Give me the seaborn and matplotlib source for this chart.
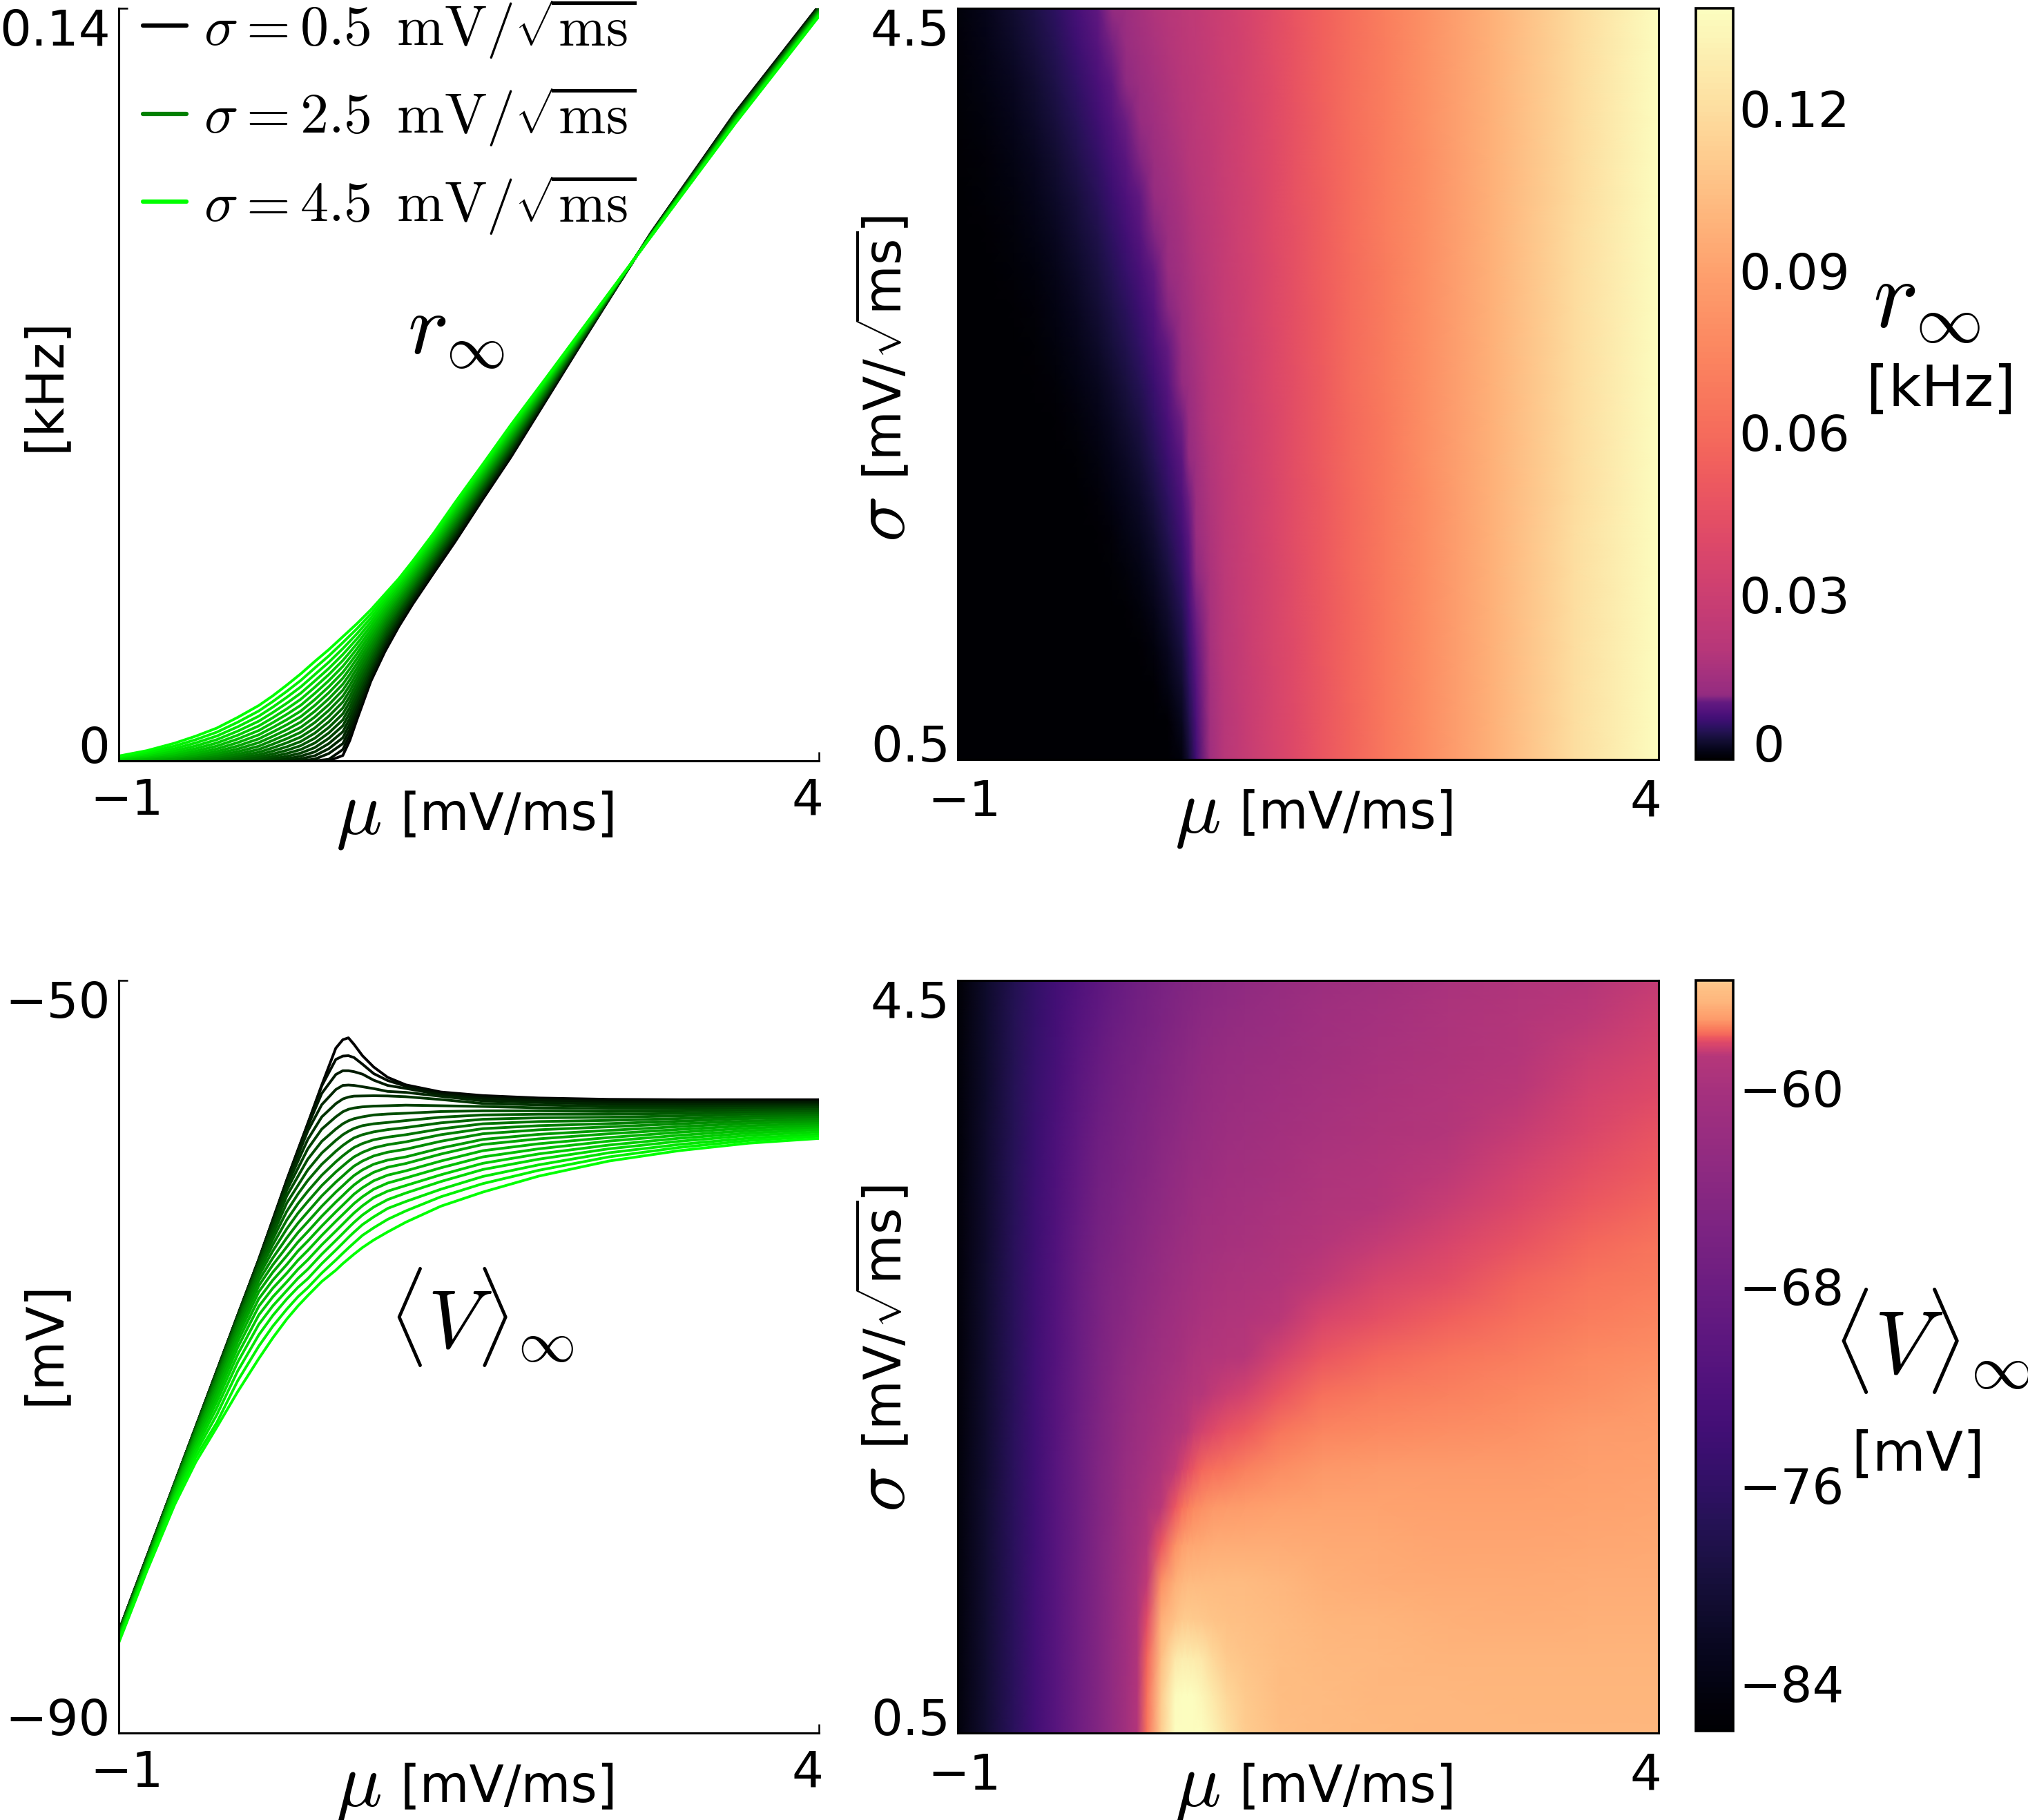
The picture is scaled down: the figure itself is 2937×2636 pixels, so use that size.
import numpy as np
import pandas as pd
import matplotlib
matplotlib.use("Agg")
import matplotlib.pyplot as plt
from matplotlib.colors import ListedColormap
from matplotlib.lines import Line2D
from matplotlib.transforms import ScaledTranslation
import seaborn as sns

sigma_values = [0.5, 0.7, 0.9, 1.1, 1.3, 1.5, 1.7, 1.9, 2.1, 2.3, 2.5, 2.7, 2.9, 3.1, 3.3, 3.5, 3.7, 3.9, 4.1, 4.3, 4.5]
mu_r = [-1, -0.8, -0.6, -0.45, -0.3, -0.15, 0, 0.1, 0.2, 0.3, 0.4, 0.5, 0.6, 0.65, 0.7, 0.8, 0.9, 1.0, 1.1, 1.25, 1.4, 1.6, 1.8, 2.05, 2.3, 2.8, 3.4, 4]
mu_v = [-1, -0.8, -0.6, -0.45, -0.3, -0.15, 0, 0.1, 0.2, 0.28, 0.35, 0.45, 0.55, 0.6, 0.64, 0.68, 0.74, 0.82, 0.92, 1.05, 1.3, 1.6, 2, 2.5, 3, 3.5, 4]

r_s05 = [0, 0, 0, 0, 0, 0, 0, 0, 0, 0, 0, 0, .001, .0038, .0076, .0148, .0203, .025, .0292, .035, .0407, .0487, .0565, .067, .0775, .0982, .1205, .1405]
r_s07 = [0, 0, 0, 0, 0, 0, 0, 0, 0, 0, 0, .0003, .0021, .00483, .00837, .01522, .02076, .0254, .02954, .03537, .04107, .04903, .0568, .06721, .07763, .09817, .1204, .1404]
r_s09 = [0, 0, 0, 0, 0, 0, 0, 0, 0, .00004, .00033, .00137, .0032, .00585, .00919, .01574, .02125, .0258, .02991, .03574, .04143, .04935, .0571, .06742, .07775, .09813, .1203, .1403]
r_s11 = [0, 0, 0, 0, 0, 0, 0, 0, .00008, .00038, .00096, .00227, .0043, .00688, .01005, .0163, .02176, .0262, .03029, .03611, .0418, .04968, .0574, .06763, .07788, .0981, .1202, .1402]
r_s13 = [0, 0, 0, 0, 0, 0, 0, .00011, .0004, .00087, .00168, .00322, .00542, .0079, .0109, .01689, .02227, .0266, .03068, .03648, .04216, .05, .0577, .06784, .078, .09806, .1201, .1401]
r_s15 = [0, 0, 0, 0, 0, 0, .00012, .00041, .00084, .00145, .00247, .0042, .00653, .00893, .01178, .0175, .0228, .0271, .03107, .03685, .04253, .05033, .058, .06805, .07813, .09803, .12, .14]
r_s17 = [0, 0, 0, 0, 0, .00008, .00037, .0008, .00137, .00211, .00333, .0052, .00763, .00995, .01266, .01813, .02332, .0275, .03146, .03722, .04289, .05065, .0583, .06826, .07825, .09799, .1199, .1399]
r_s19 = [0, 0, 0, 0, .00005, .00026, .00071, .00128, .00197, .00284, .00422, .00622, .00874, .01098, .01355, .01878, .02385, .028, .03186, .03759, .04326, .05098, .0586, .06847, .07838, .09796, .1198, .1398]
r_s21 = [0, 0, 0, .00004, .00018, .00053, .00112, .00183, .00263, .00361, .00516, .00726, .00984, .012, .01444, .01944, .02439, .0284, .03226, .03796, .04362, .0513, .0589, .06868, .0785, .09792, .1197, .1397]
r_s23 = [0, 0, .00002, .00013, .00038, .00086, .0016, .00243, .00336, .00445, .00612, .00832, .01095, .01303, .01534, .02011, .02493, .0288, .03266, .03833, .04399, .05163, .0592, .06889, .07863, .09789, .1196, .1396]
r_s25 = [0, .00002, .00009, .00028, .00064, .00125, .00214, .0031, .00413, .00533, .00714, .0094, .01205, .01405, .01625, .0208, .02547, .0293, .03306, .0387, .04435, .05195, .0595, .0691, .07875, .09785, .1195, .1395]
r_s27 = [.00001, .00006, .00021, .00049, .00096, .00171, .00274, .00381, .00495, .00625, .00817, .01047, .01316, .01508, .01716, .02149, .02601, .0298, .03347, .03907, .04472, .05228, .0598, .06931, .07888, .09782, .1194, .1394]
r_s29 = [.00004, .00014, .00037, .00075, .00133, .00222, .0034, .00456, .00581, .00723, .00923, .01157, .01426, .0161, .01807, .02219, .02656, .0302, .03388, .03944, .04508, .0526, .0601, .06952, .079, .09778, .1193, .1393]
r_s31 = [.00008, .00025, .00057, .00106, .00175, .00278, .0041, .00537, .00673, .00823, .01032, .01268, .01537, .01713, .01899, .02291, .02711, .0307, .03429, .03981, .04545, .05293, .0604, .06973, .07913, .09775, .1192, .1392]
r_s33 = [.00014, .00039, .00083, .00142, .00223, .0034, .00485, .00622, .00767, .00927, .01141, .0138, .01647, .01815, .01991, .02363, .02766, .0311, .0347, .04018, .04581, .05325, .0607, .06994, .07925, .09771, .1191, .1391]
r_s35 = [.00023, .00057, .00112, .00183, .00276, .00407, .00565, .00711, .00866, .01035, .01256, .01493, .01758, .01918, .02083, .02435, .02821, .0316, .03511, .04055, .04618, .05358, .061, .07015, .07938, .09768, .119, .139]
r_s37 = [.00032, .00077, .00147, .00229, .00333, .00478, .0065, .00803, .00967, .01147, .01371, .01606, .01868, .0202, .02176, .02509, .02877, .032, .03553, .04092, .04654, .0539, .0613, .07036, .0795, .09764, .1189, .1389]
r_s39 = [.00044, .001, .00186, .00279, .00395, .00554, .00739, .009, .01073, .0126, .01487, .0172, .01979, .02123, .02269, .02583, .02932, .0325, .03594, .04129, .04691, .05423, .0616, .07057, .07963, .09761, .1188, .1388]
r_s41 = [.00058, .00127, .00229, .00335, .00462, .00635, .00832, .01, .01183, .01377, .01606, .01836, .02089, .02225, .02363, .02658, .02988, .033, .03636, .04166, .04727, .05455, .0619, .07078, .07975, .09757, .1187, .1387]
r_s43 = [.00073, .00157, .00277, .00395, .00534, .0072, .00929, .01104, .01294, .01497, .01728, .01953, .022, .02328, .02456, .02734, .03044, .0334, .03678, .04203, .04764, .05488, .0622, .07099, .07988, .09754, .1186, .1386]
r_s45 = [.0009, .0019, .0033, .0046, .0061, .0081, .0103, .0121, .0141, .0162, .0185, .0207, .0231, .0243, .0255, .0281, .031, .0339, .0372, .0424, .048, .0552, .0625, .0712, .08, .0975, .1185, .1385]

v_s05 = [-84.6, -80.65, -76.7, -73.73, -70.76, -67.79, -64.83, -62.72, -60.6, -59.0, -57.6, -55.55, -53.6, -53.15, -53.05, -53.4, -54.0, -54.6, -55.15, -55.55, -55.93, -56.12, -56.25, -56.32, -56.34, -56.34, -56.34]
v_s07 = [-84.6, -80.65, -76.7, -73.73, -70.76, -67.79, -64.83, -62.73, -60.62, -59.02, -57.62, -55.6, -54.2, -54.02, -54.0, -54.1, -54.45, -54.95, -55.32, -55.62, -55.98, -56.17, -56.3, -56.38, -56.4, -56.4, -56.41]
v_s09 = [-84.61, -80.66, -76.7, -73.73, -70.76, -67.79, -64.84, -62.76, -60.68, -59.12, -57.75, -56.0, -55.0, -54.8, -54.8, -54.85, -54.98, -55.3, -55.58, -55.74, -56.07, -56.28, -56.38, -56.47, -56.49, -56.49, -56.49]
v_s11 = [-84.61, -80.67, -76.7, -73.74, -70.77, -67.8, -64.87, -62.83, -60.78, -59.29, -58.0, -56.6, -55.8, -55.58, -55.56, -55.58, -55.65, -55.75, -55.9, -55.95, -56.16, -56.4, -56.49, -56.57, -56.59, -56.58, -56.57]
v_s13 = [-84.62, -80.68, -76.71, -73.75, -70.79, -67.82, -64.91, -62.92, -60.93, -59.6, -58.45, -57.25, -56.55, -56.3, -56.2, -56.15, -56.14, -56.13, -56.14, -56.18, -56.33, -56.54, -56.62, -56.69, -56.7, -56.67, -56.66]
v_s15 = [-84.64, -80.7, -76.72, -73.76, -70.81, -67.85, -64.97, -63.06, -61.15, -59.98, -58.95, -57.9, -57.25, -56.98, -56.85, -56.78, -56.72, -56.68, -56.66, -56.63, -56.66, -56.7, -56.77, -56.82, -56.82, -56.78, -56.76]
v_s17 = [-84.65, -80.72, -76.73, -73.78, -70.85, -67.9, -65.06, -63.26, -61.45, -60.41, -59.5, -58.55, -57.9, -57.62, -57.46, -57.35, -57.25, -57.15, -57.1, -57.06, -56.97, -56.93, -56.93, -56.97, -56.94, -56.89, -56.86]
v_s19 = [-84.67, -80.74, -76.75, -73.81, -70.9, -67.96, -65.17, -63.5, -61.83, -60.89, -60.07, -59.17, -58.5, -58.2, -58.02, -57.87, -57.72, -57.62, -57.55, -57.45, -57.27, -57.15, -57.11, -57.11, -57.07, -57.0, -56.96]
v_s21 = [-84.7, -80.77, -76.77, -73.85, -70.96, -68.05, -65.32, -63.75, -62.27, -61.35, -60.63, -59.77, -59.08, -58.77, -58.56, -58.37, -58.2, -58.05, -57.93, -57.82, -57.57, -57.38, -57.3, -57.27, -57.2, -57.11, -57.06]
v_s23 = [-84.72, -80.8, -76.8, -73.9, -71.05, -68.16, -65.49, -64.05, -62.73, -61.86, -61.2, -60.35, -59.64, -59.32, -59.09, -58.88, -58.67, -58.47, -58.33, -58.2, -57.89, -57.62, -57.5, -57.44, -57.34, -57.23, -57.16]
v_s25 = [-84.75, -80.84, -76.84, -73.96, -71.16, -68.3, -65.7, -64.38, -63.2, -62.37, -61.75, -60.9, -60.18, -59.86, -59.61, -59.38, -59.14, -58.9, -58.73, -58.58, -58.2, -57.88, -57.72, -57.61, -57.48, -57.34, -57.27]
v_s27 = [-84.78, -80.88, -76.88, -74.04, -71.29, -68.47, -65.95, -64.75, -63.68, -62.9, -62.3, -61.45, -60.72, -60.39, -60.12, -59.87, -59.6, -59.33, -59.13, -58.97, -58.55, -58.15, -57.94, -57.78, -57.62, -57.47, -57.38]
v_s29 = [-84.82, -80.92, -76.94, -74.13, -71.45, -68.67, -66.23, -65.12, -64.16, -63.4, -62.83, -62.0, -61.25, -60.91, -60.63, -60.37, -60.07, -59.77, -59.55, -59.38, -58.91, -58.45, -58.18, -57.97, -57.77, -57.59, -57.49]
v_s31 = [-84.85, -80.97, -77.0, -74.24, -71.64, -68.9, -66.55, -65.51, -64.63, -63.9, -63.35, -62.53, -61.78, -61.43, -61.14, -60.87, -60.54, -60.2, -59.93, -59.73, -59.23, -58.72, -58.42, -58.15, -57.92, -57.72, -57.6]
v_s33 = [-84.89, -81.02, -77.08, -74.37, -71.85, -69.18, -66.92, -65.93, -65.1, -64.38, -63.85, -63.05, -62.3, -61.94, -61.65, -61.36, -61.02, -60.65, -60.35, -60.12, -59.6, -59.05, -58.68, -58.35, -58.07, -57.85, -57.71]
v_s35 = [-84.94, -81.07, -77.16, -74.52, -72.11, -69.5, -67.32, -66.36, -65.56, -64.87, -64.35, -63.55, -62.8, -62.44, -62.15, -61.86, -61.5, -61.1, -60.77, -60.5, -59.96, -59.38, -58.95, -58.54, -58.23, -57.98, -57.82]
v_s37 = [-84.98, -81.13, -77.26, -74.69, -72.39, -69.87, -67.78, -66.82, -66.02, -65.35, -64.85, -64.05, -63.32, -62.95, -62.65, -62.36, -61.98, -61.55, -61.2, -60.9, -60.33, -59.72, -59.22, -58.75, -58.39, -58.11, -57.93]
v_s39 = [-85.03, -81.19, -77.38, -74.88, -72.72, -70.28, -68.28, -67.3, -66.48, -65.83, -65.35, -64.55, -63.82, -63.45, -63.15, -62.86, -62.47, -62.05, -61.65, -61.3, -60.69, -60.05, -59.5, -58.95, -58.55, -58.24, -58.05]
v_s41 = [-85.09, -81.26, -77.5, -75.09, -73.09, -70.75, -68.84, -67.81, -66.93, -66.31, -65.85, -65.05, -64.33, -63.96, -63.66, -63.38, -62.98, -62.57, -62.12, -61.75, -61.1, -60.42, -59.8, -59.16, -58.72, -58.38, -58.17]
v_s43 = [-85.14, -81.33, -77.64, -75.33, -73.5, -71.27, -69.44, -68.38, -67.47, -66.81, -66.33, -65.55, -64.86, -64.5, -64.22, -63.95, -63.55, -63.15, -62.7, -62.25, -61.5, -60.8, -60.09, -59.38, -58.88, -58.51, -58.28]
v_s45 = [-85.2, -81.4, -77.85, -75.6, -73.75, -71.85, -70.1, -69.0, -68.0, -67.3, -66.75, -66.0, -65.4, -65.05, -64.8, -64.55, -64.2, -63.8, -63.37, -62.85, -62.0, -61.25, -60.4, -59.6, -59.05, -58.65, -58.4]

r_rows = [r_s05, r_s07, r_s09, r_s11, r_s13, r_s15, r_s17, r_s19, r_s21, r_s23, r_s25,
          r_s27, r_s29, r_s31, r_s33, r_s35, r_s37, r_s39, r_s41, r_s43, r_s45]
v_rows = [v_s05, v_s07, v_s09, v_s11, v_s13, v_s15, v_s17, v_s19, v_s21, v_s23, v_s25,
          v_s27, v_s29, v_s31, v_s33, v_s35, v_s37, v_s39, v_s41, v_s43, v_s45]

legend_labels = [r'$\sigma = 0.5\ \,\mathrm{mV}/\sqrt{\mathrm{ms}}$',
                 r'$\sigma = 2.5\ \,\mathrm{mV}/\sqrt{\mathrm{ms}}$',
                 r'$\sigma = 4.5\ \,\mathrm{mV}/\sqrt{\mathrm{ms}}$']
legend_colors = ['#000000', '#008000', '#00ff00']
r_cbar_ticks = [0, .015, .03, .045, .06, .075, .09, .105, .12, .135]
r_cbar_labels = ['0', '', '0.03', '', '0.06', '', '0.09', '', '0.12', '']
v_cbar_ticks = [-84, -80, -76, -72, -68, -64, -60, -56]
v_cbar_labels = ['\u221284', '', '\u221276', '', '\u221268', '', '\u221260', '']

sns.set_theme(style='white')
plt.rcParams['font.family'] = ['DejaVu Sans']
plt.rcParams['mathtext.fontset'] = 'cm'
plt.rcParams['axes.edgecolor'] = 'black'
plt.rcParams['text.color'] = 'black'
plt.rcParams['xtick.color'] = 'black'
plt.rcParams['ytick.color'] = 'black'
plt.rcParams['axes.labelcolor'] = 'black'

W, H = 2937, 2636
TICK_FS, LABEL_FS, SYMBOL_FS = 52, 53, 80
fig = plt.figure(figsize=(W / 100, H / 100), dpi=100, facecolor='white')


def px_axes(x0, y0, x1, y1):
    return fig.add_axes([x0 / W, 1 - y1 / H, (x1 - x0) / W, (y1 - y0) / H])


def long_table(mu, rows):
    return pd.DataFrame([{'mu': m, 'sigma': s, 'value': v}
                         for s, row in zip(sigma_values, rows)
                         for m, v in zip(mu, row)])


def warped_cmap(knots_v, knots_m, vmin, vmax):
    vals = np.linspace(vmin, vmax, 1024)
    base = plt.get_cmap('magma')
    return ListedColormap(base(np.interp(vals, knots_v, knots_m)))


def shift(label, dx=0, dy=0):
    label.set_transform(label.get_transform()
                        + ScaledTranslation(dx / 100, dy / 100, fig.dpi_scale_trans))


def style_ticks(ax, yt, ylabels):
    ax.set_xlim(-1, 4)
    ax.set_xticks([-1, 4])
    ax.set_xticklabels(['\u22121', '4'], fontsize=TICK_FS)
    ax.set_yticks(yt)
    ax.set_yticklabels(ylabels, fontsize=TICK_FS)
    ax.set_xlabel('[mV/ms]', fontsize=LABEL_FS, va='center')
    ax.xaxis.set_label_coords(0.557, -0.072)
    ax.text(0.342, -0.0715, r'$\mu$', transform=ax.transAxes, fontsize=SYMBOL_FS,
            ha='center', va='center')


def finish_ticks(ax, xt):
    labs = ax.get_xticklabels()
    shift(labs[0], dx=xt[0])
    shift(labs[1], dx=xt[1])
    ylabs = ax.get_yticklabels()
    ylabs[0].set_va('bottom')
    ylabs[1].set_va('top')
    shift(ylabs[0], dy=-18)


def line_panel(ax, mu, rows, ylim, ylabels, ylabel, ylab_y):
    palette = {s: (0, i / 20, 0) for i, s in enumerate(sigma_values)}
    sns.lineplot(data=long_table(mu, rows), x='mu', y='value', hue='sigma', palette=palette,
                 estimator=None, errorbar=None, sort=False, linewidth=2.8, legend=False, ax=ax)
    ax.set_ylim(*ylim)
    style_ticks(ax, list(ylim), ylabels)
    ax.tick_params(axis='both', direction='in', length=9.5, width=1.8, bottom=True, left=True)
    ax.tick_params(axis='x', pad=17)
    ax.tick_params(axis='y', pad=9)
    finish_ticks(ax, (12, -17))
    sns.despine(ax=ax)
    for sp in ['left', 'bottom']:
        ax.spines[sp].set_linewidth(2.2)
    ax.set_ylabel(ylabel, fontsize=LABEL_FS, va='center')
    ax.yaxis.set_label_coords(-0.105, ylab_y)


def heat_panel(ax, cax, mu, rows, cmap, vmin, vmax, clim, cticks, clabels, ylab_y, sig_y):
    mesh = ax.pcolormesh(mu, sigma_values, np.array(rows), cmap=cmap, vmin=vmin, vmax=vmax,
                         shading='gouraud', rasterized=True)
    ax.set_ylim(0.5, 4.5)
    style_ticks(ax, [0.5, 4.5], ['0.5', '4.5'])
    ax.tick_params(axis='both', length=0)
    ax.tick_params(axis='x', pad=20)
    ax.tick_params(axis='y', pad=8)
    finish_ticks(ax, (10, -19))
    for sp in ax.spines.values():
        sp.set_visible(True)
        sp.set_linewidth(2.2)
    ax.set_ylabel(r'[mV/$\sqrt{\mathdefault{ms}}$]', fontsize=LABEL_FS, va='center')
    ax.yaxis.set_label_coords(-0.106, ylab_y)
    ax.text(-0.106, sig_y, r'$\sigma$', transform=ax.transAxes, fontsize=SYMBOL_FS,
            rotation=90, ha='center', va='center')
    cb = fig.colorbar(mesh, cax=cax)
    cb.set_ticks(cticks)
    cb.set_ticklabels(clabels, fontsize=TICK_FS)
    cax.set_ylim(*clim)
    cax.tick_params(axis='y', direction='in', length=9.5, width=1.5, pad=6, right=True, left=False)
    for lab in cax.get_yticklabels():
        shift(lab, dy=4)
    cb.outline.set_linewidth(2.6)
    cb.outline.set_edgecolor('black')
    return cb


ax_tl = px_axes(172, 12, 1186, 1102)
ax_tr = px_axes(1387, 12, 2402, 1100)
cax_t = px_axes(2456, 12, 2510, 1100)
ax_bl = px_axes(172, 1420, 1186, 2510)
ax_br = px_axes(1387, 1420, 2402, 2510)
cax_b = px_axes(2456, 1420, 2510, 2507)

line_panel(ax_tl, mu_r, r_rows, (0, 0.14), ['0', '0.14'], '[kHz]', 0.5)
line_panel(ax_bl, mu_v, v_rows, (-90, -50), ['\u221290', '\u221250'], '[mV]', 0.518)

r_cmap = warped_cmap([0, .007, .0105, .012, .02, .03, .06, .09, .12, .139],
                     [0, .2, .3, .42, .5, .55, .69, .8, .93, 1.0], 0, .139)
v_cmap = warped_cmap([-85.8, -60, -58.6, -58.04, -57.63, -57.1, -56.34, -55.93, -55.55, -55.0, -54.5, -54.0],
                     [0, .46, .5, .6, .7, .79, .85, .865, .89, .95, .98, 1.0], -85.8, -53)

cb_t = heat_panel(ax_tr, cax_t, mu_r, r_rows, r_cmap, 0, .139, (0, .139),
                  r_cbar_ticks, r_cbar_labels, 0.548, 0.319)
cb_b = heat_panel(ax_br, cax_b, mu_v, v_rows, v_cmap, -85.8, -53, (-85.8, -55.55),
                  v_cbar_ticks, v_cbar_labels, 0.553, 0.323)
zero_label = cax_t.get_yticklabels()[0]
zero_label.set_va('bottom')
shift(zero_label, dx=20, dy=-22)

handles = [Line2D([], [], color=c, linewidth=4.5) for c in legend_colors]
ax_tl.legend(handles, legend_labels, loc='upper left', frameon=False, fontsize=59,
             bbox_to_anchor=(0.035, 1.0155), borderaxespad=0, borderpad=0, labelspacing=0.42,
             handlelength=0.76, handletextpad=0.31)


def fig_text(x, y, s, fs):
    fig.text(x / W, 1 - y / H, s, fontsize=fs, ha='center', va='center')


fig_text(660, 478, r'$r_\infty$', 90)
fig_text(697, 1907, r'$\langle V \rangle_\infty$', 86)
fig_text(2790, 435, r'$r_\infty$', 100)
fig_text(2811, 565, '[kHz]', 59)
fig_text(2798, 1942, r'$\langle V \rangle_\infty$', 92)
fig_text(2778, 2107, '[mV]', 57)

fig.savefig('out.png', dpi=100, facecolor='white')
